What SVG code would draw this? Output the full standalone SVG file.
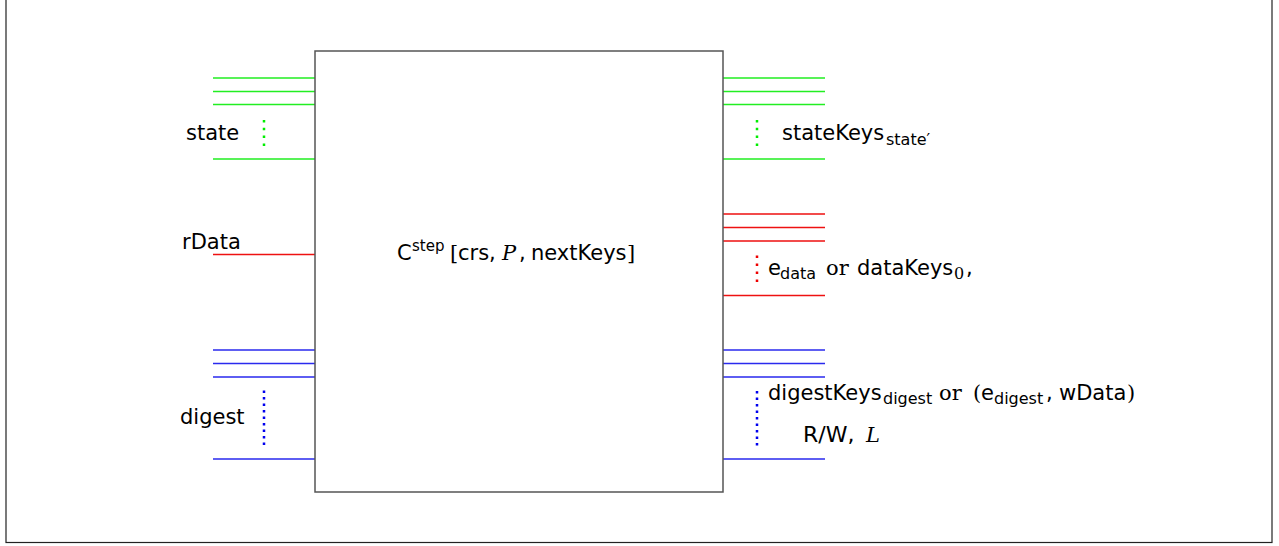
<svg xmlns="http://www.w3.org/2000/svg" width="1279" height="546" viewBox="0 0 1279 546">
<style>
.t{font-family:"DejaVu Sans",sans-serif;font-size:21px;fill:#000}
.s{font-family:"DejaVu Sans",sans-serif;font-size:16px;fill:#000}
.m{font-family:"DejaVu Serif","Liberation Serif",serif;font-size:21px;fill:#000}
.i{font-style:italic}
.g{stroke:#22ee22;stroke-width:1.3;fill:none}
.r{stroke:#ee1111;stroke-width:1.3;fill:none}
.b{stroke:#2a2aee;stroke-width:1.3;fill:none}
.dg{stroke:#00ee00;stroke-width:2.5;stroke-dasharray:2.5 5.3;fill:none}
.dr{stroke:#ee0000;stroke-width:2.5;stroke-dasharray:2.5 5.5;fill:none}
.db{stroke:#0000ee;stroke-width:2.5;stroke-dasharray:2.5 4;fill:none}
</style>
<rect x="0" y="0" width="1279" height="546" fill="#fff"/>
<rect id="frame" x="6" y="-10" width="1266" height="552.5" fill="none" stroke="#222" stroke-width="1.2"/>
<g id="connectors">
<path class="g" d="M213 78H315M213 91.5H315M213 104.5H315M213 159H315"/>
<path class="g" d="M723 78H825M723 91.5H825M723 104.5H825M723 159H825"/>
<path class="r" d="M213 254.5H315" stroke-width="1.7"/>
<path class="r" d="M723 214H825M723 227.5H825M723 241H825M723 295.5H825"/>
<path class="b" d="M213 350H315M213 363.5H315M213 377H315M213 459H315"/>
<path class="b" d="M723 350H825M723 363.5H825M723 377H825M723 459H825"/>
<path class="dg" d="M264 120V147"/>
<path class="dg" d="M757 120V147"/>
<path class="dr" d="M757 255.5V283"/>
<path class="db" d="M264 390.5V446"/>
<path class="db" d="M757 391V446"/>
</g>
<g id="step">
<rect x="315" y="51" width="408" height="441" fill="none" stroke="#555" stroke-width="1.5"/>
<text class="t" x="397" y="260">C</text>
<text class="s" x="412" y="251" style="font-size:15px">step</text>
<text class="m" x="450" y="260">[</text>
<text class="t" x="458" y="260">crs,</text>
<text class="m i" x="502" y="260">P</text>
<text class="t" x="519" y="260">,</text>
<text class="t" x="531" y="260">nextKeys</text>
<text class="m" x="627" y="260">]</text>
</g>
<g id="state"><text class="t" x="186" y="140">state</text></g>
<g id="rData"><text class="t" x="182" y="249">rData</text></g>
<g id="digest"><text class="t" x="180" y="424">digest</text></g>
<g id="stateKeys"><text class="t" x="782" y="140">stateKeys</text><text class="s" x="886" y="145">state′</text></g>
<g id="dataKeys">
<text class="t" x="768" y="275">e</text>
<text class="s" x="780" y="279">data</text>
<text class="m" x="826" y="275">or</text>
<text class="t" x="857" y="275">dataKeys</text>
<text class="s" x="954" y="279" style="font-family:'DejaVu Serif',serif">0</text>
<text class="t" x="966" y="275">,</text>
</g>
<g id="digestKeys">
<text class="t" x="768" y="400">digestKeys</text>
<text class="s" x="883" y="404">digest</text>
<text class="m" x="939" y="400">or</text>
<text class="m" x="973" y="400">(</text>
<text class="t" x="981" y="400">e</text>
<text class="s" x="994" y="404">digest</text>
<text class="t" x="1046" y="400">,</text>
<text class="t" x="1059" y="400">wData</text>
<text class="m" x="1127" y="400">)</text>
<text class="t" x="803" y="442" style="font-size:22px">R/W,</text>
<text class="m i" x="866" y="442">L</text>
</g>
</svg>
